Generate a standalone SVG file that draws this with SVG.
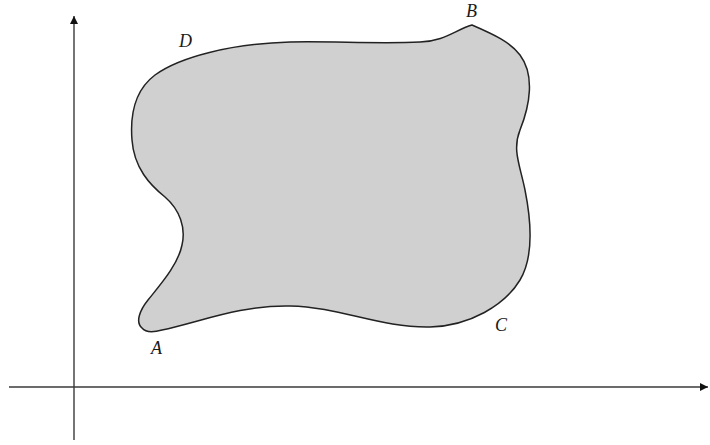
<svg xmlns="http://www.w3.org/2000/svg" width="710" height="445" viewBox="0 0 710 445">
<style>
.ax{stroke:#3a3a3a;stroke-width:1.4;fill:none}
.lbl{font-family:"Liberation Serif","Times New Roman",serif;font-style:italic;font-size:18px;fill:#1a1a1a}
</style>
<defs>
<marker id="arr" viewBox="0 0 10 10" refX="10" refY="5" markerWidth="8" markerHeight="8" markerUnits="userSpaceOnUse" orient="auto">
<path d="M0,0 L10,5 L0,10 Z" fill="#111"/>
</marker>
</defs>
<rect width="710" height="445" fill="#fff"/>
<g id="axes">
<line class="ax" x1="74" y1="440" x2="74" y2="16" marker-end="url(#arr)"/>
<line class="ax" x1="9" y1="387" x2="708" y2="387" marker-end="url(#arr)"/>
</g>
<g id="region">
<path d="M162,330 C200,322 240,305 290,306 C340,307 380,328 430,327 C470,326 505,305 520,280 C535,255 530,215 525,190 C520,165 512,150 520,130 C530,105 535,75 520,55 C510,42 495,35 472,25 C455,30 445,41 420,42 C380,44 330,41 290,42 C230,44 180,57 155,75 C135,90 130,115 132,140 C134,168 150,185 165,197 C180,210 186,228 182,245 C178,265 160,285 148,300 C140,310 135,322 142,328 C146,333 155,332 162,330 Z" fill="#d0d0d0" stroke="#222" stroke-width="1.5"/>
</g>
<g id="labels">
<text class="lbl" x="179" y="47">D</text>
<text class="lbl" x="466" y="17">B</text>
<text class="lbl" x="151" y="354">A</text>
<text class="lbl" x="495" y="331">C</text>
</g>
</svg>
